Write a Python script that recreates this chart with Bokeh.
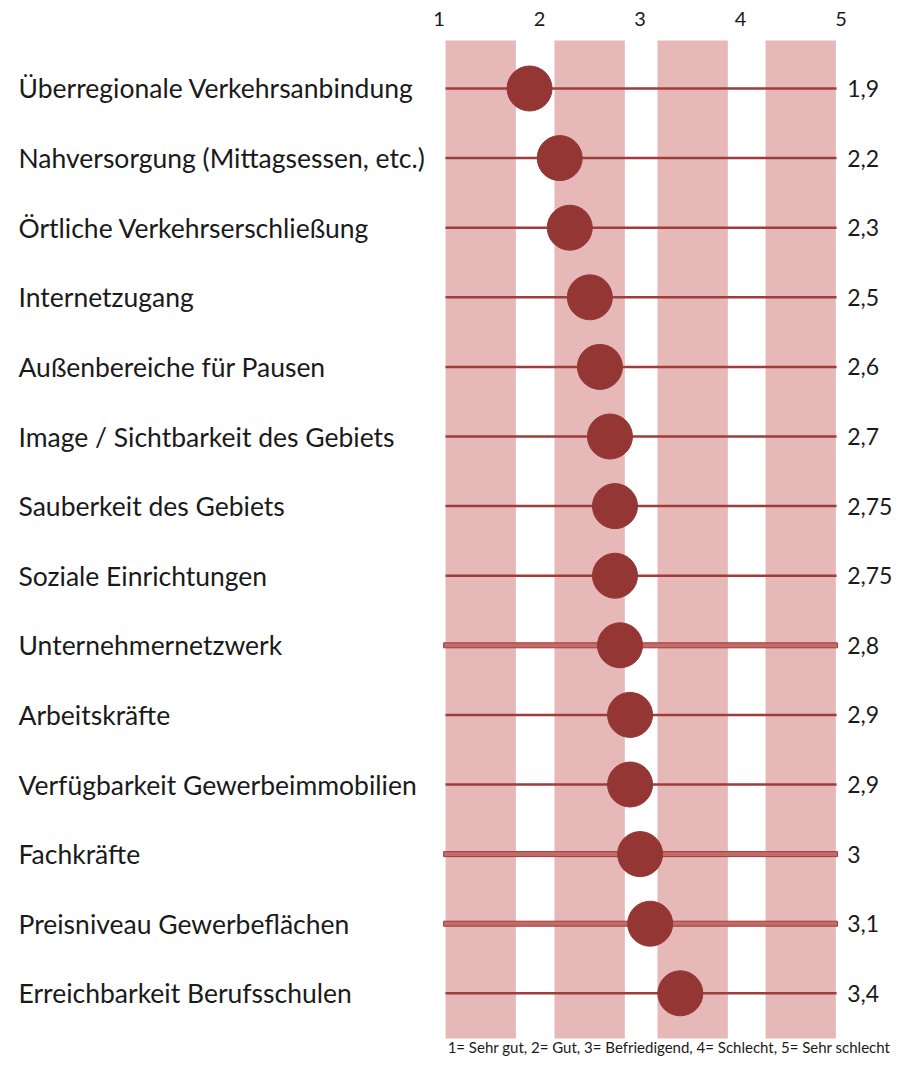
from bokeh.plotting import figure
from bokeh.models import Range1d, FixedTicker
from bokeh.core.properties import value
from bokeh.embed import file_html
from bokeh.resources import INLINE

# ---- data ----
categories = [
    "Überregionale Verkehrsanbindung",
    "Nahversorgung (Mittagsessen, etc.)",
    "Örtliche Verkehrserschließung",
    "Internetzugang",
    "Außenbereiche für Pausen",
    "Image / Sichtbarkeit des Gebiets",
    "Sauberkeit des Gebiets",
    "Soziale Einrichtungen",
    "Unternehmernetzwerk",
    "Arbeitskräfte",
    "Verfügbarkeit Gewerbeimmobilien",
    "Fachkräfte",
    "Preisniveau Gewerbeflächen",
    "Erreichbarkeit Berufsschulen",
]
scores = [1.9, 2.2, 2.3, 2.5, 2.6, 2.7, 2.75, 2.75, 2.8, 2.9, 2.9, 3.0, 3.1, 3.4]
scale_ticks = [1, 2, 3, 4, 5]
footnote = "1= Sehr gut, 2= Gut, 3= Befriedigend, 4= Schlecht, 5= Sehr schlecht"

# ---- styling ----
FONT = "Lato"
BAND = "#e6b8b7"
LINE = "#9e3d3c"
DOT = "#943634"
TXT = "#1a1a1a"

rows = list(range(len(categories)))
value_labels = [f"{v:g}".replace(".", ",") for v in scores]

p = figure(width=892, height=1056,
           x_range=Range1d(-3.3642, 5.5114),
           y_range=Range1d(13.908, -0.7471),
           output_backend="svg", toolbar_location=None,
           x_axis_location="above",
           min_border_left=0, min_border_right=0,
           min_border_top=36, min_border_bottom=0)
p.outline_line_color = None
p.grid.visible = False
p.yaxis.visible = False
p.background_fill_color = "white"

xa = p.xaxis[0]
xa.ticker = FixedTicker(ticks=scale_ticks)
xa.axis_line_color = None
xa.major_tick_line_color = None
xa.minor_tick_line_color = None
xa.major_label_text_font = FONT
xa.major_label_text_font_size = "20px"
xa.major_label_text_color = TXT
xa.major_label_standoff = 5

# background bands
band_w = 0.70
band_left = [1.064, 2.148, 3.173, 4.248]
p.quad(left=band_left, right=[b + band_w for b in band_left],
       top=-0.6897, bottom=13.65, fill_color=BAND, line_color=None)

# row lines
p.segment(x0=[1.064] * len(rows), x1=[4.955] * len(rows), y0=rows, y1=rows,
          line_color=LINE, line_width=2.5)

# outlined (double) lines on some rows
outlined = [8, 11, 12]
p.rect(x=[(1.0448 + 4.9642) / 2] * len(outlined), y=outlined,
       width=4.9642 - 1.0448, height=5, height_units="screen",
       fill_color="#c46a69", line_color=LINE, line_width=1)

# dots
p.scatter(x=scores, y=rows, size=45, fill_color=DOT, line_color=DOT)

# category labels
p.text(x=[-3.1851] * len(rows), y=rows, text=categories,
       text_align="left", text_baseline="middle",
       text_font=value(FONT), text_font_size="26.5px", text_color=TXT)

# value labels
p.text(x=[5.06] * len(rows), y=rows, text=value_labels,
       text_align="left", text_baseline="middle",
       text_font=value(FONT), text_font_size="23px", text_color=TXT)

# footnote
p.text(x=[5.4915], y=[13.77], text=[footnote], text_align="right",
       text_baseline="middle", text_font=value(FONT), text_font_size="15px",
       text_color=TXT)

open("out.html", "w").write(file_html(p, INLINE))
